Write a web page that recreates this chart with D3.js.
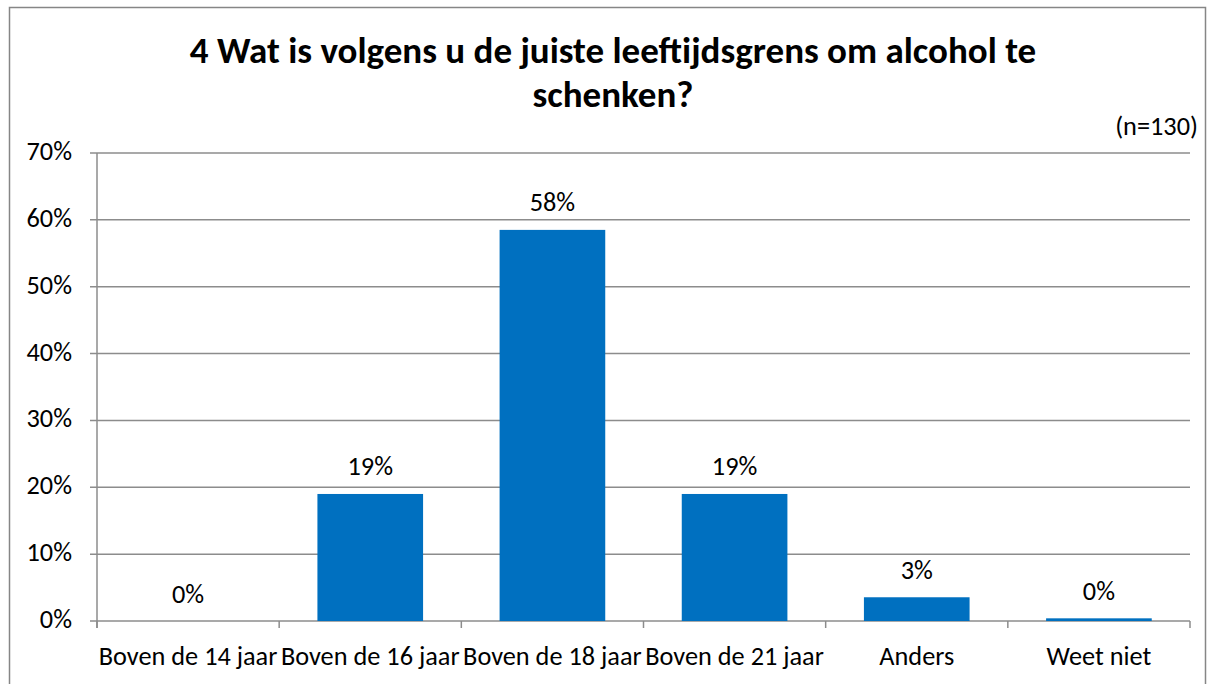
<!DOCTYPE html>
<html>
<head>
<meta charset="utf-8">
<script src="https://cdn.jsdelivr.net/npm/d3@7"></script>
<style>
  body { margin: 0; background: #fff; }
  svg text { font-family: Carlito, Calibri, "Liberation Sans", sans-serif; fill: #000; }
</style>
</head>
<body>
<svg id="chart" width="1214" height="684"></svg>
<script>
// data
const categories = ['Boven de 14 jaar', 'Boven de 16 jaar', 'Boven de 18 jaar', 'Boven de 21 jaar', 'Anders', 'Weet niet']
const values = [0, 19.0, 58.5, 19.0, 3.55, 0.4]
const labels = ['0%', '19%', '58%', '19%', '3%', '0%']
const yTicks = [0, 10, 20, 30, 40, 50, 60, 70]
const titleLines = ['4 Wat is volgens u de juiste leeftijdsgrens om alcohol te', 'schenken?']
const note = '(n=130)'

const width = 1214, height = 684
const padding = { top: 153, bottom: 63, left: 97, right: 24 }
const fontSize = 26.3
const svg = d3.select('#chart')

// frame
svg.append('rect')
	.attr('x', 9.5).attr('y', 7.5)
	.attr('width', 1196).attr('height', 690)
	.attr('fill', 'none').attr('stroke', '#868686').attr('stroke-width', 1.5)

let scaleX = d3.scaleBand()
	.domain(categories)
	.range([padding.left, width - padding.right])
	.paddingInner(0.42).paddingOuter(0.21)
let scaleY = d3.scaleLinear()
	.domain([0, 70])
	.range([height - padding.bottom, padding.top])

// gridlines
svg.append('g')
	.selectAll('line')
	.data(yTicks)
	.join('line')
	.attr('x1', padding.left - 7).attr('x2', width - padding.right)
	.attr('y1', d => scaleY(d)).attr('y2', d => scaleY(d))
	.attr('stroke', '#8c8c8c').attr('stroke-width', 1.5)

// y axis line
svg.append('line')
	.attr('x1', padding.left).attr('x2', padding.left)
	.attr('y1', scaleY(70)).attr('y2', scaleY(0) + 7)
	.attr('stroke', '#8c8c8c').attr('stroke-width', 1.5)

// x ticks between categories
const xEdges = d3.range(categories.length + 1).map(i => padding.left + i * (width - padding.right - padding.left) / categories.length)
svg.append('g')
	.selectAll('line')
	.data(xEdges)
	.join('line')
	.attr('x1', d => d).attr('x2', d => d)
	.attr('y1', scaleY(0)).attr('y2', scaleY(0) + 7)
	.attr('stroke', '#8c8c8c').attr('stroke-width', 1.5)

// y tick labels
svg.append('g')
	.selectAll('text')
	.data(yTicks)
	.join('text')
	.attr('x', 72).attr('y', d => scaleY(d) + 7)
	.attr('text-anchor', 'end')
	.attr('font-size', fontSize)
	.text(d => d + '%')

// bars
svg.append('g')
	.selectAll('rect')
	.data(values)
	.join('rect')
	.attr('x', (d, i) => scaleX(categories[i]))
	.attr('y', d => scaleY(d))
	.attr('width', scaleX.bandwidth())
	.attr('height', d => scaleY(0) - scaleY(d))
	.attr('fill', '#0070c0')

// value labels
svg.append('g')
	.selectAll('text')
	.data(values)
	.join('text')
	.attr('x', (d, i) => scaleX(categories[i]) + scaleX.bandwidth() / 2)
	.attr('y', d => scaleY(d) - 18.5)
	.attr('text-anchor', 'middle')
	.attr('font-size', fontSize)
	.text((d, i) => labels[i])

// category labels
svg.append('g')
	.selectAll('text')
	.data(categories)
	.join('text')
	.attr('x', d => scaleX(d) + scaleX.bandwidth() / 2)
	.attr('y', 665)
	.attr('text-anchor', 'middle')
	.attr('font-size', fontSize)
	.text(d => d)

// title
svg.append('g')
	.selectAll('text')
	.data(titleLines)
	.join('text')
	.attr('x', 613)
	.attr('y', (d, i) => 63 + i * 44)
	.attr('text-anchor', 'middle')
	.attr('font-size', 37)
	.attr('font-weight', 'bold')
	.text(d => d)

svg.append('text')
	.attr('x', 1198).attr('y', 135)
	.attr('text-anchor', 'end')
	.attr('font-size', fontSize)
	.text(note)
</script>
</body>
</html>
